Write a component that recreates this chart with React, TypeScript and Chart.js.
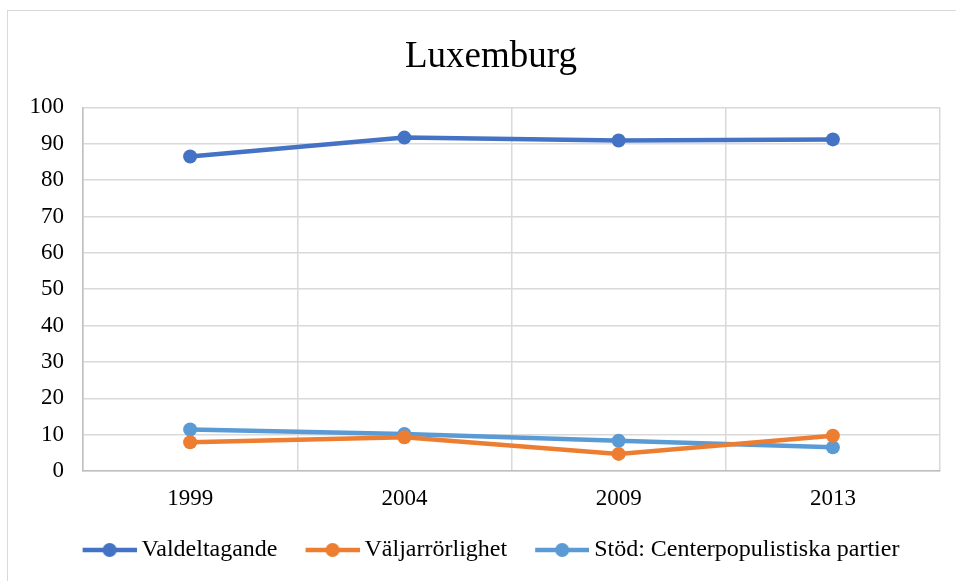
import React, { useEffect, useRef } from "react";
import { Chart, registerables } from "chart.js";

Chart.register(...registerables);

const title = "Luxemburg";
const years = ["1999", "2004", "2009", "2013"];
const valdeltagande = [86.5, 91.7, 90.9, 91.2];
const valjarrorlighet = [7.9, 9.3, 4.7, 9.7];
const centerpopulist = [11.4, 10.2, 8.3, 6.5];
const seriesNames = ["Valdeltagande", "Väljarrörlighet", "Stöd: Centerpopulistiska partier"];
const seriesColors = ["#4472C4", "#ED7D31", "#5B9BD5"];

const FONT = "'Liberation Serif', 'Times New Roman', serif";

// legend marker: a short line with a dot
function legendIcon(color: string): HTMLCanvasElement {
  const c = document.createElement("canvas");
  c.width = 61;
  c.height = 16;
  const ctx = c.getContext("2d")!;
  ctx.strokeStyle = color;
  ctx.lineWidth = 4.5;
  ctx.beginPath();
  ctx.moveTo(7, 8);
  ctx.lineTo(61, 8);
  ctx.stroke();
  ctx.fillStyle = color;
  ctx.beginPath();
  ctx.arc(34, 8, 7, 0, Math.PI * 2);
  ctx.fill();
  return c;
}

export default function App() {
  const ref = useRef<HTMLCanvasElement>(null);
  useEffect(() => {
    const seriesData = [valdeltagande, valjarrorlighet, centerpopulist];
    const chart = new Chart(ref.current!, {
      type: "line",
      data: {
        labels: years,
        datasets: seriesNames.map((name, i) => ({
          label: name,
          data: seriesData[i],
          borderColor: seriesColors[i],
          backgroundColor: seriesColors[i],
          borderWidth: 4.5,
          pointRadius: 7,
          pointHoverRadius: 7,
          pointBorderWidth: 0,
          pointStyle: "circle",
          tension: 0,
          yAxisID: "y",
        })),
      },
      options: {
        responsive: false,
        animation: false,
        devicePixelRatio: 1,
        layout: { padding: { top: 10, left: 10, right: 10, bottom: 9 } },
        plugins: {
          tooltip: { enabled: false },
          title: {
            display: true,
            text: title,
            color: "#000",
            font: { family: FONT, size: 37, weight: "normal" },
            padding: { top: 25, bottom: 28 },
          },
          legend: {
            position: "bottom",
            labels: {
              color: "#000",
              font: { family: FONT, size: 24 },
              usePointStyle: true,
              pointStyleWidth: 47,
              padding: 28,
              generateLabels: (ch: any) =>
                ch.data.datasets.map((ds: any, i: number) => ({
                  text: ds.label,
                  fillStyle: seriesColors[i],
                  strokeStyle: seriesColors[i],
                  lineWidth: 0,
                  pointStyle: legendIcon(seriesColors[i]),
                  hidden: false,
                  datasetIndex: i,
                  fontColor: "#000",
                })),
            },
          },
        },
        scales: {
          x: {
            type: "category",
            offset: true,
            grid: { offset: true, color: "#d9d9d9", lineWidth: 1.5, drawTicks: false },
            border: { color: "#bfbfbf", width: 1.5 },
            ticks: { color: "#000", font: { family: FONT, size: 23 }, padding: 14 },
            afterFit: (scale: any) => {
              scale.height = 39;
            },
          },
          y: {
            position: "left",
            min: 0,
            max: 100,
            grid: { color: "#d9d9d9", lineWidth: 1.5, drawTicks: false },
            border: { color: "#bfbfbf", width: 1.5 },
            ticks: { stepSize: 10, color: "#000", font: { family: FONT, size: 23 }, padding: 19 },
            afterFit: (scale: any) => {
              scale.width = 73;
            },
          },
          yRightSpace: {
            position: "right",
            min: 0,
            max: 100,
            grid: { display: false, drawTicks: false },
            border: { display: false },
            ticks: { display: false },
            afterFit: (scale: any) => {
              scale.width = 32;
            },
          },
        },
      },
    } as any);
    return () => chart.destroy();
  }, []);
  return (
    <div
      style={{
        position: "fixed",
        left: 0,
        top: 0,
        width: 956,
        height: 581,
        overflow: "hidden",
        background: "#fff",
      }}
    >
      <div
        style={{
          position: "absolute",
          left: 7,
          top: 10,
          width: 1000,
          height: 600,
          border: "1.5px solid #d9d9d9",
          boxSizing: "border-box",
        }}
      />
      <canvas ref={ref} width={982} height={581} style={{ position: "absolute", left: 0, top: 0 }} />
    </div>
  );
}
